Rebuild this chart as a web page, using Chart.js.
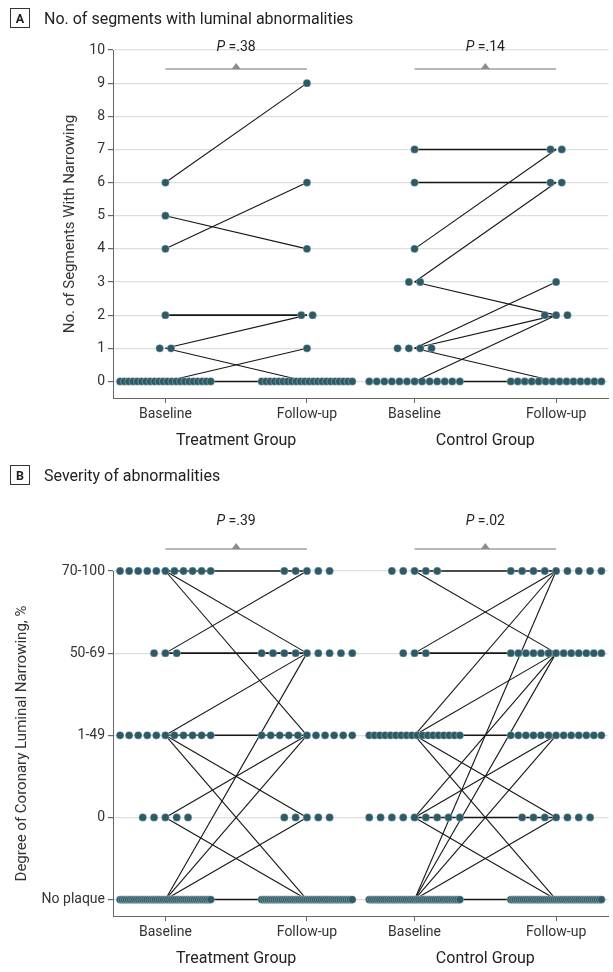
<!DOCTYPE html>
<html>
<head>
<meta charset="utf-8">
<script src="https://cdn.jsdelivr.net/npm/chart.js@4.4.1/dist/chart.umd.min.js"></script>
<style>
  html, body { margin: 0; padding: 0; background: #fff; }
  body { width: 613px; height: 972px; position: relative; overflow: hidden; font-family: Roboto, "Noto Sans", sans-serif; color: #222; }
  .panel { position: absolute; left: 0; width: 613px; }
  .head { position: absolute; left: 10px; display: flex; align-items: center; font-size: 16px; color: #222; }
  .tag { box-sizing: border-box; width: 20px; height: 20px; border: 1px solid #333; font-weight: bold; font-size: 12.5px;
         display: flex; align-items: center; justify-content: center; margin-right: 14px; }
</style>
</head>
<body>
<div class="panel" style="top:0;height:460px"><canvas id="chartA"></canvas></div>
<div class="panel" style="top:460px;height:512px"><canvas id="chartB"></canvas></div>
<div class="head" style="top:8px"><span class="tag">A</span>No. of segments with luminal abnormalities</div>
<div class="head" style="top:465px"><span class="tag">B</span>Severity of abnormalities</div>

<script>
const groupNames = ['Treatment Group', 'Control Group'];
const timeLabels = ['Baseline', 'Follow-up'];
const pValuesA = ['.38', '.14'];
const pValuesB = ['.39', '.02'];

// Panel A: no. of segments with narrowing, one entry per patient (same order at baseline and follow-up)
const treatBaseline   = [6, 5, 4, 2, 1, 1, 0, 0, 0, 0, 0, 0, 0, 0, 0, 0, 0, 0, 0, 0, 0, 0, 0, 0, 0, 0, 0, 0];
const treatFollowup   = [9, 4, 6, 2, 2, 0, 1, 0, 0, 0, 0, 0, 0, 0, 0, 0, 0, 0, 0, 0, 0, 0, 0, 0, 0, 0, 0, 0];
const controlBaseline = [7, 6, 4, 3, 3, 1, 1, 1, 1, 0, 0, 0, 0, 0, 0, 0, 0, 0, 0, 0, 0, 0];
const controlFollowup = [7, 6, 7, 6, 2, 3, 2, 0, 0, 2, 0, 0, 0, 0, 0, 0, 0, 0, 0, 0, 0, 0];
const segmentTicks = [0, 1, 2, 3, 4, 5, 6, 7, 8, 9, 10];

// Panel B: severity, dots per level (index into severityLevels) and observed changes [from, to]
const severityLevels = ['No plaque', '0', '1-49', '50-69', '70-100'];
const treatBaselineCounts   = [45, 5, 11, 3, 11];
const treatFollowupCounts   = [45, 5, 11, 9, 5];
const controlBaselineCounts = [45, 9, 18, 3, 5];
const controlFollowupCounts = [45, 7, 13, 13, 9];
const treatChanges = [[4, 4], [4, 3], [4, 2], [3, 4], [3, 3], [2, 3], [2, 2], [2, 1], [2, 0],
                      [1, 2], [1, 0], [0, 3], [0, 2], [0, 1], [0, 0]];
const controlChanges = [[4, 4], [4, 3], [3, 4], [3, 3], [2, 4], [2, 3], [2, 2], [2, 1], [2, 0],
                        [1, 3], [1, 2], [1, 1], [1, 0], [0, 4], [0, 3], [0, 2], [0, 1], [0, 0]];

// x positions of Treatment baseline/follow-up, Control baseline/follow-up
const xPos = [0.37, 1.37, 2.13, 3.13];
const dotColor = '#2c5a66';
const font = 'Roboto, "Noto Sans", sans-serif';
Chart.defaults.font.family = font;

function swarm(center, n) {
  if (n <= 0) return [];
  const s = n > 1 ? Math.min(0.08, 0.64 / (n - 1)) : 0;
  return Array.from({ length: n }, (_, i) => center + (i - (n - 1) / 2) * s);
}

function dotsFromValues(values, center) {
  const counts = {};
  values.forEach(v => counts[v] = (counts[v] || 0) + 1);
  return Object.keys(counts).flatMap(v => swarm(center, counts[v]).map(x => ({ x, y: +v })));
}

function dotsFromCounts(counts, center) {
  return counts.flatMap((n, lvl) => swarm(center, n).map(x => ({ x, y: lvl })));
}

function pairLines(from, to) {
  const seen = new Set();
  const out = [];
  from.forEach((b, i) => {
    const k = b + '-' + to[i];
    if (!seen.has(k)) { seen.add(k); out.push([b, to[i]]); }
  });
  return out;
}

function buildDatasets(dots, changesByGroup) {
  const sets = [{
    data: dots, showLine: false, pointRadius: 3.9, pointHoverRadius: 3.9,
    backgroundColor: dotColor, borderColor: 'rgba(255,255,255,0.5)', borderWidth: 0.6,
    order: 0, clip: false
  }];
  changesByGroup.forEach((changes, g) => {
    changes.forEach(([a, b]) => {
      sets.push({
        data: [{ x: xPos[g * 2], y: a }, { x: xPos[g * 2 + 1], y: b }],
        showLine: true, pointRadius: 0, borderColor: '#161616',
        borderWidth: a === b ? 1.6 : 1.1, order: 1, clip: false
      });
    });
  });
  return sets;
}

function drawP(ctx, p, cx, cy) {
  const f1 = 'italic 14px ' + font, f2 = '14px ' + font;
  ctx.font = f1; const w1 = ctx.measureText('P ').width;
  ctx.font = f2; const w2 = ctx.measureText('=' + p).width;
  const x = cx - (w1 + w2) / 2;
  ctx.textAlign = 'left'; ctx.textBaseline = 'middle'; ctx.fillStyle = '#222';
  ctx.font = f1; ctx.fillText('P ', x, cy);
  ctx.font = f2; ctx.fillText('=' + p, x + w1, cy);
}

const groupDecor = {
  id: 'groupDecor',
  afterDraw(chart, args, opts) {
    const { ctx, chartArea, scales: { x } } = chart;
    ctx.save();
    groupNames.forEach((name, g) => {
      const a = x.getPixelForValue(xPos[g * 2]);
      const b = x.getPixelForValue(xPos[g * 2 + 1]);
      const m = (a + b) / 2;
      ctx.font = '16px ' + font; ctx.fillStyle = '#222';
      ctx.textAlign = 'center'; ctx.textBaseline = 'middle';
      ctx.fillText(name, m, chartArea.bottom + opts.labelGap);
      const yb = chartArea.top + opts.bracketDy;
      ctx.strokeStyle = '#a0a0a0'; ctx.lineWidth = 1.6;
      ctx.beginPath(); ctx.moveTo(a, yb); ctx.lineTo(b, yb); ctx.stroke();
      ctx.fillStyle = '#8c8c8c';
      ctx.beginPath(); ctx.moveTo(m - 4.5, yb); ctx.lineTo(m + 4.5, yb); ctx.lineTo(m, yb - 6); ctx.closePath(); ctx.fill();
      drawP(ctx, opts.pValues[g], m, chartArea.top + opts.textDy);
    });
    ctx.restore();
  }
};

function makeChart(id, datasets, yCfg, decor) {
  return new Chart(document.getElementById(id), {
    type: 'scatter',
    data: { datasets },
    plugins: [groupDecor],
    options: {
      responsive: true, maintainAspectRatio: false, animation: false,
      layout: { padding: { top: yCfg.padTop, left: 0, right: 0, bottom: 0 } },
      plugins: { legend: { display: false }, tooltip: { enabled: false }, groupDecor: decor },
      scales: {
        x: {
          type: 'linear', min: 0, max: 3.5,
          afterBuildTicks: s => { s.ticks = xPos.map(v => ({ value: v })); },
          afterFit: s => { s.height = yCfg.xHeight; },
          ticks: { callback: (v, i) => timeLabels[i % 2], color: '#333', font: { size: 14 }, padding: 3, maxRotation: 0, autoSkip: false },
          grid: { drawOnChartArea: false, drawTicks: true, tickLength: 5, tickColor: '#666' },
          border: { color: '#666', width: 1 }
        },
        y: {
          type: 'linear', min: yCfg.min, max: yCfg.max,
          afterBuildTicks: s => { s.ticks = yCfg.ticks.map(v => ({ value: v })); },
          afterFit: s => { s.width = 113; },
          ticks: { callback: yCfg.label, color: '#333', font: { size: 14 }, padding: 3, autoSkip: false },
          grid: { color: '#dedede', lineWidth: 1.2, drawTicks: true, tickLength: 5, tickColor: '#666' },
          border: { color: '#666', width: 1 },
          title: { display: true, text: yCfg.title, color: '#333', font: { size: 15 }, padding: { top: yCfg.titlePad, bottom: 0 } }
        }
      }
    }
  });
}

const dotsA = [
  ...dotsFromValues(treatBaseline, xPos[0]), ...dotsFromValues(treatFollowup, xPos[1]),
  ...dotsFromValues(controlBaseline, xPos[2]), ...dotsFromValues(controlFollowup, xPos[3])
];
makeChart('chartA',
  buildDatasets(dotsA, [pairLines(treatBaseline, treatFollowup), pairLines(controlBaseline, controlFollowup)]),
  { padTop: 50, xHeight: 62, min: -0.5, max: 10, ticks: segmentTicks, label: v => String(v),
    title: 'No. of Segments With Narrowing', titlePad: 61 },
  { pValues: pValuesA, labelGap: 43, bracketDy: 19, textDy: -3 });

const dotsB = [
  ...dotsFromCounts(treatBaselineCounts, xPos[0]), ...dotsFromCounts(treatFollowupCounts, xPos[1]),
  ...dotsFromCounts(controlBaselineCounts, xPos[2]), ...dotsFromCounts(controlFollowupCounts, xPos[3])
];
makeChart('chartB',
  buildDatasets(dotsB, [treatChanges, controlChanges]),
  { padTop: 111, xHeight: 56, min: -0.2, max: 4, ticks: [0, 1, 2, 3, 4], label: v => severityLevels[v],
    title: 'Degree of Coronary Luminal Narrowing, %', titlePad: 13 },
  { pValues: pValuesB, labelGap: 43, bracketDy: -22, textDy: -50 });
</script>
</body>
</html>
